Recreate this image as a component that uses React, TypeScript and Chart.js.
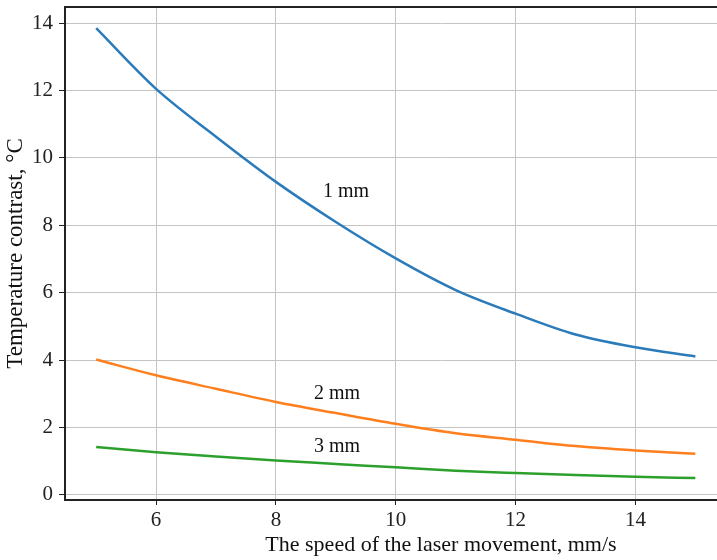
import React, { useEffect, useRef } from "react";
import { Chart, registerables } from "chart.js";

Chart.register(...registerables);

const speeds = [5, 6, 7, 8, 9, 10, 11, 12, 13, 14, 15];
const contrast1mm = [13.85, 12.05, 10.63, 9.29, 8.1, 7.02, 6.08, 5.38, 4.76, 4.38, 4.11];
const contrast2mm = [4.02, 3.55, 3.15, 2.76, 2.43, 2.11, 1.83, 1.64, 1.45, 1.32, 1.22];
const contrast3mm = [1.42, 1.27, 1.14, 1.02, 0.92, 0.82, 0.72, 0.65, 0.59, 0.54, 0.5];
const xTicks = [6, 8, 10, 12, 14];
const yTicks = [0, 2, 4, 6, 8, 10, 12, 14];
const seriesLabels = ["1 mm", "2 mm", "3 mm"];
const labelX = [9.17, 9.02, 9.02];
const labelY = [9.0, 3.0, 1.42];

const FONT = "'Liberation Serif', 'Times New Roman', serif";

const annotatePlugin = {
  id: "annotate",
  afterDatasetsDraw(chart: any) {
    const { ctx, chartArea, scales } = chart;
    ctx.save();
    ctx.strokeStyle = "#222";
    ctx.lineWidth = 2;
    ctx.beginPath();
    ctx.moveTo(chartArea.left, chartArea.top);
    ctx.lineTo(chartArea.right, chartArea.top);
    ctx.stroke();
    ctx.fillStyle = "#111";
    ctx.font = `20px ${FONT}`;
    ctx.textAlign = "center";
    ctx.textBaseline = "middle";
    seriesLabels.forEach((t, i) => {
      ctx.fillText(t, scales.x.getPixelForValue(labelX[i]), scales.y.getPixelForValue(labelY[i]));
    });
    ctx.restore();
  },
};

export default function App() {
  const ref = useRef<HTMLCanvasElement>(null);
  useEffect(() => {
    if (!ref.current) return;
    const chart = new Chart(ref.current, {
      type: "line",
      data: {
        datasets: [
          {
            data: speeds.map((x, i) => ({ x, y: contrast1mm[i] })),
            borderColor: "#2b7bba",
            borderWidth: 2.5,
            pointRadius: 0,
            cubicInterpolationMode: "monotone",
          },
          {
            data: speeds.map((x, i) => ({ x, y: contrast2mm[i] })),
            borderColor: "#ff7f1e",
            borderWidth: 2.5,
            pointRadius: 0,
            cubicInterpolationMode: "monotone",
          },
          {
            data: speeds.map((x, i) => ({ x, y: contrast3mm[i] })),
            borderColor: "#2ca02c",
            borderWidth: 2.5,
            pointRadius: 0,
            cubicInterpolationMode: "monotone",
          },
        ],
      },
      options: {
        responsive: false,
        animation: false,
        devicePixelRatio: 1,
        layout: { padding: { top: 7, left: 0, right: 23, bottom: 0 } },
        plugins: { legend: { display: false }, tooltip: { enabled: false } },
        scales: {
          x: {
            type: "linear",
            min: 4.48,
            max: 17.03,
            afterBuildTicks: (s: any) => {
              s.ticks = xTicks.map((v) => ({ value: v }));
            },
            afterFit: (s: any) => {
              s.height = 60;
              s.paddingLeft = 0;
              s.paddingRight = 0;
            },
            grid: { color: "#c4c4c4", lineWidth: 1, tickColor: "#222", tickLength: 5 },
            border: { color: "#222", width: 2 },
            ticks: { color: "#222", font: { family: FONT, size: 21 }, padding: 3, maxRotation: 0 },
            title: {
              display: true,
              text: "The speed of the laser movement, mm/s",
              color: "#111",
              font: { family: FONT, size: 22 },
              padding: { top: 0, bottom: 2 },
            },
          },
          y: {
            type: "linear",
            min: -0.15,
            max: 14.48,
            afterBuildTicks: (s: any) => {
              s.ticks = yTicks.map((v) => ({ value: v }));
            },
            afterFit: (s: any) => {
              s.width = 65;
              s.paddingTop = 0;
              s.paddingBottom = 0;
            },
            grid: { color: "#c4c4c4", lineWidth: 1, tickColor: "#222", tickLength: 6 },
            border: { color: "#222", width: 2 },
            ticks: { color: "#222", font: { family: FONT, size: 21 }, padding: 6 },
            title: {
              display: true,
              text: "Temperature contrast, °C",
              color: "#111",
              font: { family: FONT, size: 23 },
              padding: { top: 2, bottom: 0 },
            },
          },
        },
      },
      plugins: [annotatePlugin],
    } as any);
    return () => chart.destroy();
  }, []);
  return (
    <div style={{ position: "absolute", left: 0, top: 0, width: 717, height: 560, overflow: "hidden", background: "#fff" }}>
      <canvas ref={ref} width={840} height={560} style={{ display: "block" }} />
    </div>
  );
}
